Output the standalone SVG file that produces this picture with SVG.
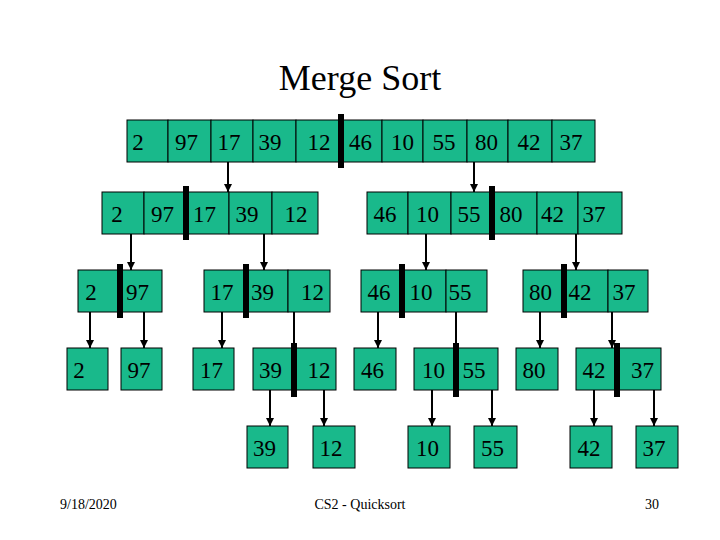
<svg xmlns="http://www.w3.org/2000/svg" width="720" height="540" viewBox="0 0 720 540">
<defs>
<style>
.c{fill:#19B98B;stroke:#000;stroke-width:1}
.b{fill:#000}
.t{font-family:"Liberation Serif","Times New Roman",serif;font-size:23px;fill:#000;text-anchor:middle}
.h{font-family:"Liberation Serif","Times New Roman",serif;font-size:36px;fill:#000;text-anchor:middle}
.f{font-family:"Liberation Serif","Times New Roman",serif;font-size:14px;fill:#000}
.a{stroke:#000;stroke-width:2;fill:none}
</style>
<marker id="ah" viewBox="0 0 10 10" refX="10" refY="5" markerWidth="4" markerHeight="4" orient="auto" markerUnits="strokeWidth">
<path d="M0,0 L10,5 L0,10 z" fill="#000"/>
</marker>
</defs>
<rect width="720" height="540" fill="#fff"/>
<text class="h" x="360" y="90">Merge Sort</text>

<g id="connectors">
<line class="a" x1="228" y1="162" x2="228" y2="192" marker-end="url(#ah)"/>
<line class="a" x1="474" y1="162" x2="474" y2="192" marker-end="url(#ah)"/>
<line class="a" x1="131" y1="234" x2="131" y2="270" marker-end="url(#ah)"/>
<line class="a" x1="264" y1="234" x2="264" y2="270" marker-end="url(#ah)"/>
<line class="a" x1="426" y1="234" x2="426" y2="270" marker-end="url(#ah)"/>
<line class="a" x1="576" y1="234" x2="576" y2="270" marker-end="url(#ah)"/>
<line class="a" x1="90" y1="312" x2="90" y2="348" marker-end="url(#ah)"/>
<line class="a" x1="144" y1="312" x2="144" y2="348" marker-end="url(#ah)"/>
<line class="a" x1="222" y1="312" x2="222" y2="348" marker-end="url(#ah)"/>
<line class="a" x1="294" y1="312" x2="294" y2="346"/>
<line class="a" x1="378" y1="312" x2="378" y2="348" marker-end="url(#ah)"/>
<line class="a" x1="456" y1="312" x2="456" y2="346"/>
<line class="a" x1="540" y1="312" x2="540" y2="348" marker-end="url(#ah)"/>
<line class="a" x1="612" y1="312" x2="612" y2="348" marker-end="url(#ah)"/>
<line class="a" x1="270" y1="390" x2="270" y2="426" marker-end="url(#ah)"/>
<line class="a" x1="324" y1="390" x2="324" y2="426" marker-end="url(#ah)"/>
<line class="a" x1="432" y1="390" x2="432" y2="426" marker-end="url(#ah)"/>
<line class="a" x1="492" y1="390" x2="492" y2="426" marker-end="url(#ah)"/>
<line class="a" x1="594" y1="390" x2="594" y2="426" marker-end="url(#ah)"/>
<line class="a" x1="654" y1="390" x2="654" y2="426" marker-end="url(#ah)"/>
</g>

<g id="row1">
<rect class="c" x="127" y="120" width="41" height="42"/>
<rect class="c" x="168" y="120" width="43" height="42"/>
<rect class="c" x="211" y="120" width="42" height="42"/>
<rect class="c" x="253" y="120" width="43" height="42"/>
<rect class="c" x="296" y="120" width="45" height="42"/>
<rect class="c" x="341" y="120" width="41" height="42"/>
<rect class="c" x="382" y="120" width="41" height="42"/>
<rect class="c" x="423" y="120" width="44" height="42"/>
<rect class="c" x="467" y="120" width="41" height="42"/>
<rect class="c" x="508" y="120" width="44" height="42"/>
<rect class="c" x="552" y="120" width="43" height="42"/>
<rect class="b" x="338" y="114" width="6" height="54"/>
<text class="t" x="138" y="150">2</text>
<text class="t" x="186.5" y="150">97</text>
<text class="t" x="229" y="150">17</text>
<text class="t" x="270" y="150">39</text>
<text class="t" x="319" y="150">12</text>
<text class="t" x="360.5" y="150">46</text>
<text class="t" x="402.5" y="150">10</text>
<text class="t" x="444" y="150">55</text>
<text class="t" x="486.5" y="150">80</text>
<text class="t" x="529" y="150">42</text>
<text class="t" x="571" y="150">37</text>
</g>

<g id="row2-left">
<rect class="c" x="102" y="192" width="42" height="42"/>
<rect class="c" x="144" y="192" width="42" height="42"/>
<rect class="c" x="186" y="192" width="43" height="42"/>
<rect class="c" x="229" y="192" width="43" height="42"/>
<rect class="c" x="272" y="192" width="46" height="42"/>
<rect class="b" x="183" y="186" width="6" height="54"/>
<text class="t" x="117" y="222">2</text>
<text class="t" x="162.5" y="222">97</text>
<text class="t" x="204.5" y="222">17</text>
<text class="t" x="247" y="222">39</text>
<text class="t" x="296" y="222">12</text>
</g>

<g id="row2-right">
<rect class="c" x="367" y="192" width="41" height="42"/>
<rect class="c" x="408" y="192" width="43" height="42"/>
<rect class="c" x="451" y="192" width="41" height="42"/>
<rect class="c" x="492" y="192" width="45" height="42"/>
<rect class="c" x="537" y="192" width="41" height="42"/>
<rect class="c" x="578" y="192" width="44" height="42"/>
<rect class="b" x="489" y="186" width="6" height="54"/>
<text class="t" x="385" y="222">46</text>
<text class="t" x="427.5" y="222">10</text>
<text class="t" x="469" y="222">55</text>
<text class="t" x="511" y="222">80</text>
<text class="t" x="552.5" y="222">42</text>
<text class="t" x="594" y="222">37</text>
</g>

<g id="row3-a">
<rect class="c" x="78" y="270" width="42" height="42"/>
<rect class="c" x="120" y="270" width="42" height="42"/>
<rect class="b" x="117" y="264" width="6" height="54"/>
<text class="t" x="91" y="300">2</text>
<text class="t" x="137.5" y="300">97</text>
</g>

<g id="row3-b">
<rect class="c" x="204" y="270" width="42" height="42"/>
<rect class="c" x="246" y="270" width="42" height="42"/>
<rect class="c" x="288" y="270" width="42" height="42"/>
<rect class="b" x="243" y="264" width="6" height="54"/>
<text class="t" x="222" y="300">17</text>
<text class="t" x="262.5" y="300">39</text>
<text class="t" x="312.5" y="300">12</text>
</g>

<g id="row3-c">
<rect class="c" x="361" y="270" width="41" height="42"/>
<rect class="c" x="402" y="270" width="44" height="42"/>
<rect class="c" x="446" y="270" width="41" height="42"/>
<rect class="b" x="399" y="264" width="6" height="54"/>
<text class="t" x="379" y="300">46</text>
<text class="t" x="421" y="300">10</text>
<text class="t" x="460" y="300">55</text>
</g>

<g id="row3-d">
<rect class="c" x="523" y="270" width="41" height="42"/>
<rect class="c" x="564" y="270" width="44" height="42"/>
<rect class="c" x="608" y="270" width="40" height="42"/>
<rect class="b" x="561" y="264" width="6" height="54"/>
<text class="t" x="540.5" y="300">80</text>
<text class="t" x="580" y="300">42</text>
<text class="t" x="624" y="300">37</text>
</g>

<g id="row4-2">
<rect class="c" x="67" y="348" width="41" height="42"/>
<text class="t" x="79" y="378">2</text>
</g>
<g id="row4-97">
<rect class="c" x="121" y="348" width="41" height="42"/>
<text class="t" x="139" y="378">97</text>
</g>
<g id="row4-17">
<rect class="c" x="193" y="348" width="41" height="42"/>
<text class="t" x="211.5" y="378">17</text>
</g>
<g id="row4-39-12">
<rect class="c" x="253" y="348" width="41" height="42"/>
<rect class="c" x="294" y="348" width="42" height="42"/>
<rect class="b" x="291" y="343" width="6" height="54"/>
<text class="t" x="270.5" y="378">39</text>
<text class="t" x="319" y="378">12</text>
</g>
<g id="row4-46">
<rect class="c" x="354" y="348" width="42" height="42"/>
<text class="t" x="372.5" y="378">46</text>
</g>
<g id="row4-10-55">
<rect class="c" x="414" y="348" width="42" height="42"/>
<rect class="c" x="456" y="348" width="42" height="42"/>
<rect class="b" x="453" y="343" width="6" height="54"/>
<text class="t" x="433.5" y="378">10</text>
<text class="t" x="474" y="378">55</text>
</g>
<g id="row4-80">
<rect class="c" x="516" y="348" width="42" height="42"/>
<text class="t" x="534" y="378">80</text>
</g>
<g id="row4-42-37">
<rect class="c" x="576" y="348" width="41" height="42"/>
<rect class="c" x="617" y="348" width="44" height="42"/>
<rect class="b" x="614" y="343" width="6" height="54"/>
<text class="t" x="594" y="378">42</text>
<text class="t" x="642.5" y="378">37</text>
</g>

<g id="row5-39">
<rect class="c" x="247" y="426" width="41" height="42"/>
<text class="t" x="264.5" y="456">39</text>
</g>
<g id="row5-12">
<rect class="c" x="313" y="426" width="42" height="42"/>
<text class="t" x="331" y="456">12</text>
</g>
<g id="row5-10">
<rect class="c" x="408" y="426" width="42" height="42"/>
<text class="t" x="427.5" y="456">10</text>
</g>
<g id="row5-55">
<rect class="c" x="474" y="426" width="43" height="42"/>
<text class="t" x="492.5" y="456">55</text>
</g>
<g id="row5-42">
<rect class="c" x="570" y="426" width="42" height="42"/>
<text class="t" x="589" y="456">42</text>
</g>
<g id="row5-37">
<rect class="c" x="636" y="426" width="42" height="42"/>
<text class="t" x="654" y="456">37</text>
</g>

<text class="f" x="60" y="509">9/18/2020</text>
<text class="f" x="360" y="509" text-anchor="middle">CS2 - Quicksort</text>
<text class="f" x="659" y="509" text-anchor="end">30</text>
</svg>
